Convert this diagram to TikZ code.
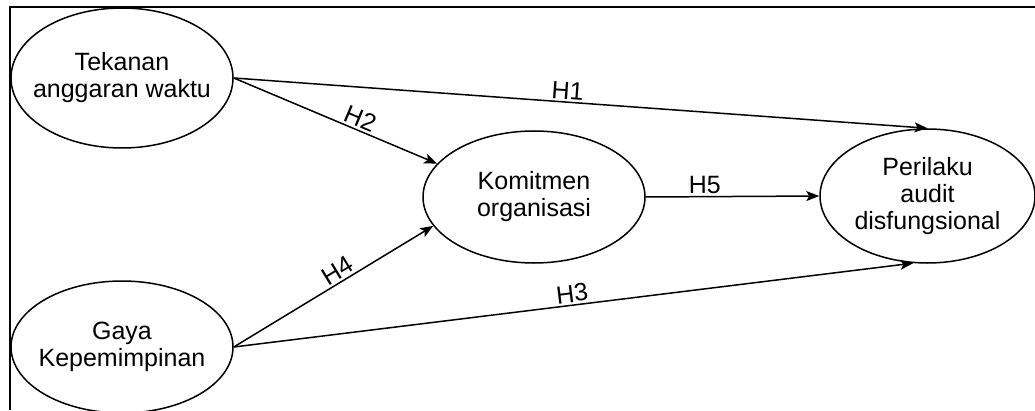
\documentclass[tikz,border=0pt]{standalone}
\usepackage{fontspec}
\setmainfont{Liberation Sans}
\usetikzlibrary{shapes.geometric,arrows.meta}

\begin{document}
\begin{tikzpicture}[x=1pt,y=1pt,
  construct/.style={ellipse, draw, line width=1.5pt, inner sep=0pt},
  txt/.style={align=center, font=\fontsize{25}{27}\selectfont},
  arr/.style={line width=1.5pt, -{Stealth[length=13pt,width=10pt,inset=3pt]}},
  hyp/.style={sloped, above, inner sep=2pt, font=\fontsize{25}{27}\selectfont}]
  \useasboundingbox (0,0) rectangle (1035,410);
  % open frame: top and left edges
  \draw[line width=1.5pt] (10,0) -- (10,403) -- (1035,403);

  % constructs
  \node[construct, minimum width=222pt, minimum height=140pt,
        label={[txt]center:Tekanan\\anggaran waktu}] (tek) at (122,332) {};
  \node[construct, minimum width=222pt, minimum height=132pt,
        label={[txt]center:Gaya\\Kepemimpinan}] (gay) at (122,63) {};
  \node[construct, minimum width=222pt, minimum height=132pt,
        label={[txt]center:Komitmen\\organisasi}] (kom) at (534,213) {};
  \node[construct, minimum width=215pt, minimum height=134pt,
        label={[txt]center:Perilaku\\audit\\disfungsional}] (per) at (927.5,214) {};

  % hypothesised paths
  \draw[arr] (tek.east) -- node[hyp, pos=0.48] {H1} (per.north);
  \draw[arr] (tek.east) -- node[hyp, pos=0.6] {H2} (kom.161);
  \draw[arr] (gay.east) -- node[hyp, pos=0.5] {H3} (per.258);
  \draw[arr] (gay.east) -- node[hyp, pos=0.55] {H4} (kom.196);
  \draw[arr] (kom.east) -- node[hyp, pos=0.34] {H5} (per.west);
\end{tikzpicture}
\end{document}
